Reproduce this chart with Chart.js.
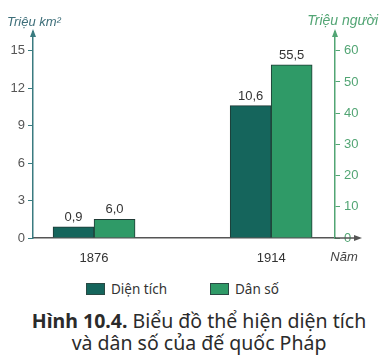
<!DOCTYPE html>
<html lang="vi">
<head>
<meta charset="utf-8">
<script src="https://cdn.jsdelivr.net/npm/chart.js@4"></script>
<style>
  html, body { margin: 0; padding: 0; background: #fff; }
  #wrap { position: relative; width: 380px; height: 364px; overflow: hidden; }
  #chart { position: absolute; left: 0; top: 0; }
  .legend { position: absolute; top: 280px; height: 18px; font: 13.5px "Noto Sans", sans-serif; color: #333; display: flex; align-items: center; }
  .legend i { display: inline-block; width: 19px; height: 12px; margin-right: 6px; border: 1px solid #2a4a44; box-sizing: border-box; }
  .caption { position: absolute; left: 0; width: 398px; top: 310px; text-align: center;
             font: 19.5px/22px "Noto Sans", sans-serif; color: #2b2b2b; }
</style>
</head>
<body>
<div id="wrap">
  <canvas id="chart" width="380" height="272"></canvas>
  <div class="legend" style="left:86px"><i style="background:#15655c"></i>Diện tích</div>
  <div class="legend" style="left:210px"><i style="background:#2f9a67"></i>Dân số</div>
  <div class="caption"><b>Hình 10.4.</b> Biểu đồ thể hiện diện tích<br>và dân số của đế quốc Pháp</div>
</div>
<script>
// Years shown on the horizontal axis
const years = [1876, 1914];
// Area, million km²
const dienTich = [0.9, 10.6];
// Population, million people
const danSo = [6.0, 55.5];
// Axis ticks
const areaTicks = [0, 3, 6, 9, 12, 15];
const popTicks  = [0, 10, 20, 30, 40, 50, 60];

const FONT = '"Liberation Sans", Arial, sans-serif';
const TEAL  = '#3a7b80';
const GREEN = '#52a574';

const fmt = v => v.toFixed(1).replace('.', ',');

// value labels above each bar
const barLabels = {
  id: 'barLabels',
  afterDatasetsDraw(chart) {
    const ctx = chart.ctx;
    ctx.save();
    ctx.font = '13px ' + FONT;
    ctx.fillStyle = '#333';
    ctx.textAlign = 'center';
    ctx.textBaseline = 'bottom';
    chart.data.datasets.forEach((ds, i) => {
      chart.getDatasetMeta(i).data.forEach((bar, j) => {
        ctx.fillText(fmt(ds.data[j].y), bar.x, bar.y - 3);
      });
    });
    ctx.restore();
  }
};

// axis arrows and unit captions
const axisDecor = {
  id: 'axisDecor',
  afterDraw(chart) {
    const { ctx, chartArea: a } = chart;
    const arrowUp = (x, color) => {
      ctx.fillStyle = color;
      ctx.beginPath();
      ctx.moveTo(x, a.top - 3);
      ctx.lineTo(x - 3, a.top + 5);
      ctx.lineTo(x + 3, a.top + 5);
      ctx.closePath();
      ctx.fill();
    };
    ctx.save();
    arrowUp(a.left, TEAL);
    arrowUp(a.right, GREEN);

    // x axis runs past the right axis
    const xEnd = a.right + 23;
    ctx.strokeStyle = '#555';
    ctx.lineWidth = 1.5;
    ctx.beginPath();
    ctx.moveTo(a.right, a.bottom);
    ctx.lineTo(xEnd, a.bottom);
    ctx.stroke();
    ctx.fillStyle = '#555';
    ctx.beginPath();
    ctx.moveTo(xEnd + 4, a.bottom);
    ctx.lineTo(xEnd - 4, a.bottom - 3);
    ctx.lineTo(xEnd - 4, a.bottom + 3);
    ctx.closePath();
    ctx.fill();

    ctx.font = 'italic 13px ' + FONT;
    ctx.textBaseline = 'middle';
    ctx.fillStyle = '#3d6e79';
    ctx.textAlign = 'left';
    ctx.fillText('Triệu km²', 7, 22);
    ctx.fillStyle = GREEN;
    ctx.textAlign = 'right';
    ctx.font = 'italic 14px ' + FONT;
    ctx.fillText('Triệu người', 378, 21);
    ctx.fillStyle = '#444';
    ctx.textAlign = 'center';
    ctx.font = 'italic 13px ' + FONT;
    ctx.fillText('Năm', 344, 257);
    ctx.restore();
  }
};

new Chart(document.getElementById('chart'), {
  type: 'bar',
  data: {
    datasets: [
      {
        label: 'Diện tích',
        data: years.map((yr, i) => ({ x: yr, y: dienTich[i] })),
        backgroundColor: '#15655c',
        borderColor: '#1f3a35',
        borderWidth: 1,
        yAxisID: 'y'
      },
      {
        label: 'Dân số',
        data: years.map((yr, i) => ({ x: yr, y: danSo[i] })),
        backgroundColor: '#2f9a67',
        borderColor: '#1f3a35',
        borderWidth: 1,
        yAxisID: 'y1'
      }
    ]
  },
  options: {
    responsive: false,
    animation: false,
    barThickness: 41,
    layout: { padding: { top: 32, left: 0, right: 0, bottom: 0 } },
    plugins: {
      legend: { display: false },
      tooltip: { enabled: false }
    },
    scales: {
      x: {
        type: 'linear',
        offset: false,
        min: 1862.9,
        max: 1927.7,
        afterBuildTicks: s => { s.ticks = years.map(v => ({ value: v })); },
        afterFit: s => { s.height = 34; },
        grid: { display: false, offset: false },
        border: { color: '#555', width: 1.5 },
        ticks: {
          padding: 5,
          color: '#333',
          font: { family: FONT, size: 13 },
          callback: v => String(v)
        }
      },
      y: {
        position: 'left',
        min: 0,
        max: 16.5,
        afterBuildTicks: s => { s.ticks = areaTicks.map(v => ({ value: v })); },
        afterFit: s => { s.width = 33; },
        grid: { drawOnChartArea: false, tickLength: 5, color: TEAL, lineWidth: 1 },
        border: { color: TEAL, width: 1.5 },
        ticks: { padding: 3, color: '#555', font: { family: FONT, size: 13 } }
      },
      y1: {
        position: 'right',
        min: 0,
        max: 66,
        afterBuildTicks: s => { s.ticks = popTicks.map(v => ({ value: v })); },
        afterFit: s => { s.width = 45; },
        grid: { drawOnChartArea: false, tickLength: 5, color: GREEN, lineWidth: 1 },
        border: { color: GREEN, width: 1.5 },
        ticks: { padding: 4, color: GREEN, font: { family: FONT, size: 13 } }
      }
    }
  },
  plugins: [barLabels, axisDecor]
});
</script>
</body>
</html>
